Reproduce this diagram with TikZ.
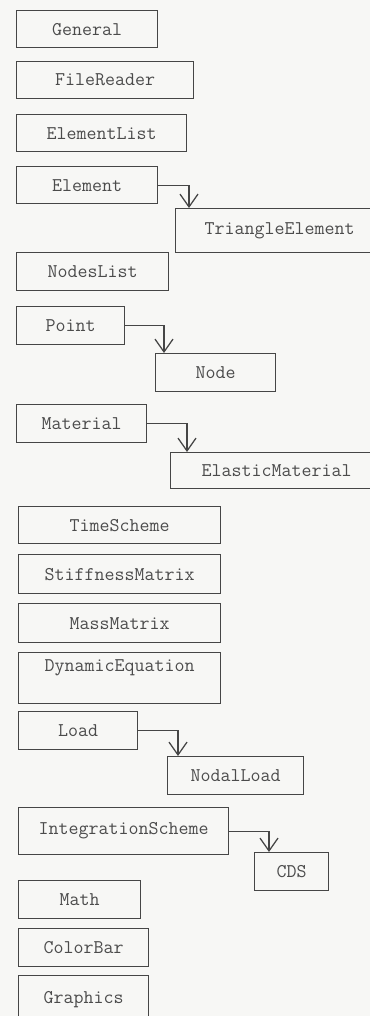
\documentclass[tikz,border=0pt]{standalone}
\usetikzlibrary{arrows.meta}

\begin{document}
\begin{tikzpicture}[font=\ttfamily\fontsize{13.8}{16}\selectfont,
  cls/.style={draw={rgb,255:red,70;green,70;blue,70}, line width=0.9pt, anchor=north west,
    text={rgb,255:red,75;green,75;blue,75}, minimum height=0.95cm},
  inh/.style={draw={rgb,255:red,70;green,70;blue,70}, line width=0.9pt,
    -{Straight Barb[length=0.32cm,width=0.45cm]}}]
\fill[fill={rgb,255:red,247;green,247;blue,245}] (0,0) rectangle (9.25,-25.4);
\useasboundingbox (0,0) rectangle (9.25,-25.4);

\node[cls, minimum width=3.525cm, minimum height=0.925cm] (general) at (0.40,-0.25) {General};
\node[cls, minimum width=4.425cm, minimum height=0.925cm] (filereader) at (0.40,-1.525) {FileReader};
\node[cls, minimum width=4.25cm, minimum height=0.925cm] (elementlist) at (0.40,-2.85) {ElementList};
\node[cls, minimum width=3.525cm, minimum height=0.925cm] (element) at (0.40,-4.15) {Element};
\node[cls, minimum width=5.2cm, minimum height=1.1cm] (triangle) at (4.375,-5.2) {TriangleElement};
\node[cls, minimum width=3.8cm] (nodeslist) at (0.40,-6.3) {NodesList};
\node[cls, minimum width=2.7cm] (point) at (0.40,-7.65) {Point};
\node[cls, minimum width=3.0cm] (node) at (3.875,-8.825) {Node};
\node[cls, minimum width=3.25cm] (material) at (0.40,-10.1) {Material};
\node[cls, minimum width=5.3cm, minimum height=0.9cm] (elastic) at (4.25,-11.3) {ElasticMaterial};

\node[cls, minimum width=5.05cm, minimum height=0.925cm] (timescheme) at (0.45,-12.65) {TimeScheme};
\node[cls, minimum width=5.05cm, minimum height=0.975cm] (stiffness) at (0.45,-13.85) {StiffnessMatrix};
\node[cls, minimum width=5.05cm, minimum height=0.975cm] (mass) at (0.45,-15.075) {MassMatrix};
\node[cls, minimum width=5.05cm, minimum height=1.275cm, text depth=0.65cm] (dynamic) at (0.45,-16.3) {DynamicEquation};
\node[cls, minimum width=2.975cm] (load) at (0.45,-17.775) {Load};
\node[cls, minimum width=3.4cm] (nodalload) at (4.175,-18.9) {NodalLoad};
\node[cls, minimum width=5.25cm, minimum height=1.175cm] (integration) at (0.45,-20.175) {IntegrationScheme};
\node[cls, minimum width=1.85cm] (cds) at (6.35,-21.3) {CDS};
\node[cls, minimum width=3.05cm] (math) at (0.45,-22.0) {Math};
\node[cls, minimum width=3.25cm] (colorbar) at (0.45,-23.2) {ColorBar};
\node[cls, minimum width=3.25cm, minimum height=1.2cm] (graphics) at (0.45,-24.375) {Graphics};

% inheritance
\draw[inh] (element.east) -| ([xshift=0.35cm]triangle.north west);
\draw[inh] (point.east) -| ([xshift=0.225cm]node.north west);
\draw[inh] (material.east) -| ([xshift=0.425cm]elastic.north west);
\draw[inh] (load.east) -| ([xshift=0.275cm]nodalload.north west);
\draw[inh] (integration.east) -| ([xshift=0.375cm]cds.north west);

\end{tikzpicture}
\end{document}
